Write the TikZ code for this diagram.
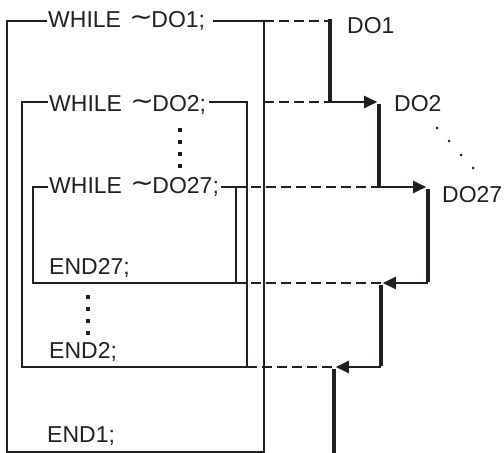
\documentclass[tikz,border=0pt]{standalone}
\usepackage{fontspec}
\usepackage{graphicx}
\setmainfont{Liberation Sans}
\newfontfamily\symfont{DejaVu Sans}
\usetikzlibrary{arrows.meta}
\definecolor{ink}{RGB}{35,31,32}
\newcommand{\tld}{\hspace{8.4pt}\raisebox{1.5pt}{\scalebox{1.22}[1.1]{\symfont ∼}}\hspace{-1.5pt}}
\begin{document}
\begin{tikzpicture}[x=1pt,y=-1pt,
  thinline/.style={draw=ink, line width=1.4pt, line join=miter},
  dashline/.style={draw=ink, line width=1.4pt, dash pattern=on 10pt off 5pt},
  vflow/.style={draw=ink, line width=3.6pt, line cap=butt},
  hflow/.style={draw=ink, line width=2.2pt, -{Triangle[length=13pt,width=12pt]}, shorten >=1.8pt},
  lbl/.style={anchor=base west, inner sep=0pt, text=ink, font=\fontsize{23}{27}\selectfont},
  dotsq/.style={fill=ink, minimum size=4pt, inner sep=0pt, outer sep=0pt, shape=rectangle},
  dotrd/.style={fill=ink, circle, minimum size=3pt, inner sep=0pt, outer sep=0pt},
]
\useasboundingbox (0,0) rectangle (504,453);
% texts
\node[lbl] (w1) at (48,27) {WHILE\tld DO1;};
\node[lbl] (w2) at (49,111) {WHILE\tld DO2;};
\node[lbl] (w3) at (49,193) {WHILE\tld DO27;};
\node[lbl] (e27) at (49,274) {END27;};
\node[lbl] (e2) at (49,358) {END2;};
\node[lbl] (e1) at (47,442) {END1;};
\node[lbl] (t1) at (347,33) {DO1};
\node[lbl] (t2) at (394,111) {DO2};
\node[lbl] (t3) at (442,202) {DO27};
% box corners
\coordinate (b1tl) at (7,21);  \coordinate (b1bl) at (7,452);
\coordinate (b1br) at (264,452); \coordinate (b1tr) at (264,21);
\coordinate (b1m) at (264,102);
\coordinate (b2tl) at (22,102); \coordinate (b2bl) at (22,367);
\coordinate (b2br) at (247,367); \coordinate (b2tr) at (247,102);
\coordinate (b3tl) at (33,187); \coordinate (b3bl) at (33,283);
\coordinate (b3br) at (236,283); \coordinate (b3tr) at (236,187);
% boxes
\draw[thinline] ([xshift=-1pt]w1.west |- b1tl) -- (b1tl) -- (b1bl) -- (b1br) -- (b1tr) -- ([xshift=8pt]w1.east |- b1tr);
\draw[thinline] ([xshift=-1pt]w2.west |- b2tl) -- (b2tl) -- (b2bl) -- (b2br) -- (b2tr) -- ([xshift=3pt]w2.east |- b2tr);
\draw[thinline] ([xshift=-1pt]w3.west |- b3tl) -- (b3tl) -- (b3bl) -- (b3br) -- (b3tr) -- ([xshift=2pt]w3.east |- b3tr);
% flow coordinates
\coordinate (f1) at (330,19);  \coordinate (f1b) at (330,102);
\coordinate (f2) at (379,102); \coordinate (f2b) at (379,187);
\coordinate (f3) at (428,187); \coordinate (f3b) at (428,283);
\coordinate (f4) at (381,283); \coordinate (f4b) at (381,367);
\coordinate (f5) at (334,367); \coordinate (f5b) at (334,453);
% dashed links
\draw[dashline] (b1tr) -- (f1 |- b1tr);
\draw[dashline] (b1m) -- (f1b);
\draw[dashline] (b3tr) -- (f2b);
\draw[dashline] (b3br) -- (f4);
\draw[dashline] (b2br) -- (f5);
% thick flow
\draw[vflow] (f1) -- ([yshift=1pt]f1b);
\draw[hflow] (f1b) -- (f2);
\draw[vflow] ([yshift=-2pt]f2) -- ([yshift=1pt]f2b);
\draw[hflow] (f2b) -- (f3);
\draw[vflow] ([yshift=-2pt]f3) -- ([yshift=1pt]f3b);
\draw[hflow] (f3b) -- (f4);
\draw[vflow] ([yshift=-2pt]f4) -- ([yshift=1pt]f4b);
\draw[hflow] (f4b) -- (f5);
\draw[vflow] ([yshift=-2pt]f5) -- (f5b);
% dots
\foreach \y [count=\i] in {130,142,154,166} \node[dotsq] (va\i) at (180,\y) {};
\foreach \y [count=\i] in {297,309,321,333} \node[dotsq] (vb\i) at (88,\y) {};
\foreach \x/\y [count=\i] in {437/128,449/141,461/155,473/168} \node[dotrd] (dd\i) at (\x,\y) {};
\end{tikzpicture}
\end{document}
